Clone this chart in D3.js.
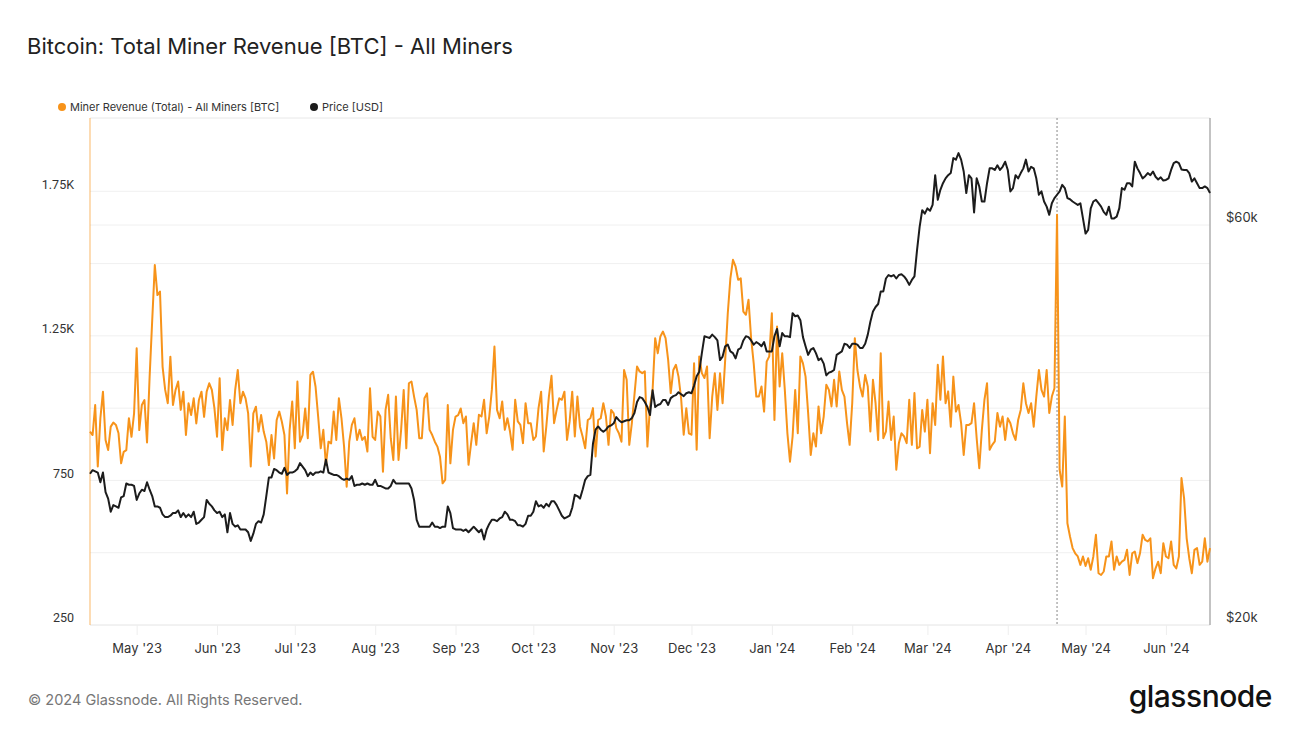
<!DOCTYPE html>
<html><head><meta charset="utf-8">
<script src="https://cdn.jsdelivr.net/npm/d3@7"></script>
<style>
body{margin:0;background:#fff;}
svg{display:block;font-family:Inter,Roboto,"Open Sans",sans-serif;}
</style>
</head><body>
<svg id="chart" width="1300" height="732"></svg>
<script>
// ---------- DATA ----------
const startDate = "2023-04-13";   // first daily point
const titleText = "Bitcoin: Total Miner Revenue [BTC] - All Miners";
const seriesNames = ["Miner Revenue (Total) - All Miners [BTC]", "Price [USD]"];

// Daily total miner revenue in BTC
const revenueBTC = [
919,907,1011,798,965,1057,890,855,936,950,942,913,809,849,855,965,901,982,1207,924,
1011,1028,881,1109,1305,1495,1391,1403,1143,1063,1017,1178,1011,1063,1092,994,1057,907,1017,976,
1034,947,1028,1057,970,1057,1086,1063,999,901,1103,855,965,924,1028,942,1063,1132,1017,1057,
1034,982,798,982,1005,919,976,919,884,803,907,826,959,
988,953,907,705,925,1023,861,1092,884,907,999,896,1115,1126,1074,971,861,925,803,884,
878,988,890,1034,965,867,728,884,942,965,890,925,890,901,850,1069,901,890,988,971,
780,994,1046,896,821,1040,821,925,1063,861,1086,1092,1040,994,896,896,1034,1051,925,907,
884,867,832,740,752,1011,809,925,971,976,999,948,
971,804,879,948,873,977,971,1029,913,971,1063,1213,994,965,1023,925,965,919,856,1029,
954,942,879,1017,948,948,890,902,1000,1057,850,936,1040,1112,948,994,1034,1029,1057,890,
954,1057,902,1040,936,902,861,959,965,1000,833,959,965,1017,971,873,994,982,931,913,
884,1132,1098,873,948,1046,1144,1127,1121,1127,867,1006,1063,1242,
1190,1248,1265,1242,1167,1052,1132,1150,1109,1034,908,1000,913,908,1155,856,1179,1121,1104,1144,
896,1040,1121,994,1121,1017,1167,1328,1449,1513,1490,1444,1449,1334,1323,1375,1242,1155,1040,1040,
1075,988,1161,1179,1328,959,1282,1075,1190,1063,913,815,902,1063,913,1179,1155,1109,983,838,
913,867,1006,913,971,1081,1063,1006,1098,1006,1127,1063,1040,
948,873,1017,1242,1132,1075,1040,1115,1075,919,1098,1017,890,1190,896,919,1023,890,971,
787,879,913,902,879,1029,873,1052,861,867,994,919,1029,844,1017,942,1150,1029,1179,1017,
1058,936,1109,988,1011,948,838,942,942,948,1017,896,792,925,1029,1086,856,873,885,983,
936,971,890,965,948,913,890,959,994,1086,1017,983,1017,936,1040,1132,1063,1040,
1132,983,1040,1069,1669,787,729,971,602,556,516,498,487,458,487,454,481,441,487,
562,429,423,435,487,487,539,441,487,458,469,475,510,423,498,504,464,498,562,544,
539,550,412,446,469,429,533,487,481,539,458,446,487,758,689,550,481,429,510,516,
458,469,550,469,516
];

// Daily BTC price in thousands of USD
const priceK = [
30.3,30.6,30.5,30.4,29.6,30.4,28.8,28.3,27.3,27.8,27.7,27.6,28.4,28.5,29.5,29.4,29.4,29.3,28.2,28.7,
29.0,28.9,29.6,29.0,28.5,27.7,27.7,27.6,27.1,26.9,26.9,27.0,27.2,27.2,27.4,26.9,27.2,26.9,27.1,26.9,
27.3,26.4,26.5,26.7,26.9,28.2,27.9,27.7,27.4,27.2,27.3,26.9,27.1,25.8,27.2,26.4,26.2,26.3,26.0,26.0,
26.0,25.8,25.2,25.7,26.4,26.6,26.5,27.1,28.5,30.0,30.0,30.7,30.6,
30.4,30.3,30.8,30.2,30.4,30.4,30.5,30.7,31.2,30.9,30.6,30.1,30.4,30.2,30.4,30.4,30.5,30.4,31.5,30.4,
30.3,30.2,30.2,30.1,29.9,29.8,29.9,29.8,30.1,29.3,29.4,29.4,29.5,29.4,29.5,29.4,29.4,29.8,29.3,29.3,
29.2,29.1,29.1,29.3,29.8,29.5,29.5,29.5,29.5,29.5,29.5,29.1,28.2,26.7,26.2,26.2,26.2,26.2,26.2,26.5,
26.2,26.2,26.1,26.2,26.2,27.7,27.2,26.1,26.0,26.0,26.0,25.9,
26.0,25.8,26.0,26.2,26.0,25.8,26.0,25.3,26.0,26.4,26.7,26.7,26.6,26.8,26.9,27.3,27.1,26.7,26.7,26.6,
26.3,26.3,26.2,26.4,27.0,27.0,27.3,28.1,27.7,27.8,27.6,27.9,27.7,28.1,28.1,27.8,27.4,27.0,26.8,26.9,
27.0,27.6,28.6,28.5,28.3,29.0,29.8,30.1,30.2,32.9,34.2,34.5,34.2,34.0,34.2,34.5,34.6,34.8,35.4,35.1,
34.9,35.0,35.1,35.1,35.3,35.8,36.9,37.4,37.3,36.9,36.4,35.6,38.1,36.4,
36.6,36.7,37.1,37.1,36.6,37.3,37.5,37.6,37.9,37.7,37.5,37.8,37.9,37.8,38.6,39.6,40.1,42.2,44.2,44.1,
44.0,44.4,44.1,43.7,41.4,41.8,43.0,43.2,42.4,42.2,41.6,42.6,42.8,43.7,44.2,44.1,43.7,43.2,43.5,43.3,
43.0,43.5,42.4,42.4,42.4,44.2,45.1,43.0,44.6,44.2,44.2,44.1,47.1,46.7,46.8,46.2,44.1,43.0,42.0,42.6,
42.8,42.2,41.4,41.6,41.0,39.7,40.0,40.1,40.3,42.0,42.2,42.4,43.3,
43.2,42.8,43.3,43.3,43.2,42.8,42.8,43.3,44.4,46.0,47.3,47.9,48.3,50.0,50.0,51.8,52.3,52.1,52.3,
51.8,52.3,52.4,52.1,51.6,50.9,51.6,52.1,56.0,59.7,62.5,61.9,62.8,62.4,63.4,68.8,64.3,66.1,67.3,68.2,
68.8,69.2,72.1,71.8,73.1,71.8,69.5,65.5,68.8,68.2,62.1,68.2,66.7,64.0,64.0,67.3,70.1,70.1,69.8,70.7,
69.8,70.4,71.4,69.8,65.8,66.4,68.8,68.2,69.2,70.1,71.8,69.5,70.4,70.1,68.2,65.2,65.8,64.0,
63.1,61.7,63.7,64.6,65.2,65.8,67.0,66.4,64.6,64.4,64.0,63.7,63.4,63.7,61.1,58.6,59.2,62.8,64.0,
64.3,63.7,63.1,62.2,61.7,63.1,61.1,61.1,61.4,62.8,66.4,66.1,67.3,67.3,66.7,71.4,70.1,69.2,68.2,68.6,
69.2,68.8,69.5,68.5,68.0,68.4,67.8,67.9,68.2,69.8,71.1,71.4,71.1,69.9,69.8,69.8,69.2,67.6,68.2,67.3,
66.4,66.4,66.7,66.4,65.5
];

const leftTickValues = [250, 750, 1250, 1750];
const leftGridValues = [500, 750, 1000, 1250, 1500, 1750];
const rightTickValues = [20, 60];          // $k
const rightGridValues = [40, 60];          // $k
const monthTicks = ["2023-05-01","2023-06-01","2023-07-01","2023-08-01","2023-09-01","2023-10-01",
  "2023-11-01","2023-12-01","2024-01-01","2024-02-01","2024-03-01","2024-04-01","2024-05-01","2024-06-01"];
const halvingDate = "2024-04-20";
const footerText = "© 2024 Glassnode. All Rights Reserved.";
const brandText = "glassnode";

// ---------- CHART ----------
const ORANGE = "#f7931a", BLACK = "#1c1c1c";
const M = {left: 90, right: 1210, top: 119, bottom: 625};
const svg = d3.select("#chart");

const parse = d3.utcParse("%Y-%m-%d");
const t0 = parse(startDate);
const n = Math.min(revenueBTC.length, priceK.length);
const dates = d3.range(n).map(i => d3.utcDay.offset(t0, i));

const x = d3.scaleUtc().domain([dates[0], dates[n - 1]]).range([M.left, M.right]);
const yL = d3.scaleLinear().domain([250, 2000]).range([M.bottom, M.top]);
const yR = d3.scaleLog().domain([20, 80.5]).range([M.bottom, M.top - 1]);

// title
svg.append("text").attr("x", 27).attr("y", 54).attr("font-size", 22).attr("fill", "#222")
  .text(titleText);

// legend
const lg = svg.append("g");
[[62, ORANGE, seriesNames[0]], [314, BLACK, seriesNames[1]]].forEach(([lx, c, t]) => {
  lg.append("circle").attr("cx", lx).attr("cy", 107).attr("r", 4).attr("fill", c);
  lg.append("text").attr("x", lx + 8).attr("y", 111).attr("font-size", 11).attr("fill", "#333").text(t);
});

// frame
svg.append("line").attr("x1", M.left).attr("x2", M.right).attr("y1", M.top - 1).attr("y2", M.top - 1)
  .attr("stroke", "#e8e8e8");
svg.append("line").attr("x1", M.left).attr("x2", M.right).attr("y1", M.bottom).attr("y2", M.bottom)
  .attr("stroke", "#e4e4e4");

// gridlines (left axis)
svg.append("g").selectAll("line").data(leftGridValues).join("line")
  .attr("x1", M.left).attr("x2", M.right)
  .attr("y1", d => yL(d)).attr("y2", d => yL(d))
  .attr("stroke", "#f0f0f0");
// gridlines (right axis)
svg.append("g").selectAll("line").data(rightGridValues).join("line")
  .attr("x1", M.left).attr("x2", M.right)
  .attr("y1", d => yR(d)).attr("y2", d => yR(d))
  .attr("stroke", "#f0f0f0");

// left axis labels
const axL = d3.axisLeft(yL).tickValues(leftTickValues).tickSize(0)
  .tickFormat(d => d >= 1000 ? d3.format(".3~s")(d).replace("k", "K") : d);
const gL = svg.append("g").attr("transform", `translate(${M.left - 16},0)`).call(axL);
gL.select(".domain").remove();
gL.selectAll("text").attr("font-size", 12.5).attr("fill", "#333").attr("font-family", "Roboto")
  .attr("dy", "-0.25em").attr("x", 0);

// right axis labels
const axR = d3.axisRight(yR).tickValues(rightTickValues).tickSize(0).tickFormat(d => "$" + d + "k");
const gR = svg.append("g").attr("transform", `translate(${M.right + 16},0)`).call(axR);
gR.select(".domain").remove();
gR.selectAll("text").attr("font-size", 13).attr("fill", "#333").attr("font-family", "Inter")
  .attr("dy", "-0.25em").attr("x", 0);

// x axis
const axX = d3.axisBottom(x).tickValues(monthTicks.map(parse)).tickSize(10).tickFormat(d3.utcFormat("%b '%y"));
const gX = svg.append("g").attr("transform", `translate(0,${M.bottom})`).call(axX);
gX.select(".domain").remove();
gX.selectAll("line").attr("stroke", "#eeeeee");
gX.selectAll("text").attr("font-size", 13).attr("fill", "#333").attr("font-family", "Inter").attr("dy", "1.15em");

// axis lines
svg.append("line").attr("x1", M.left).attr("x2", M.left).attr("y1", M.top - 1).attr("y2", M.bottom)
  .attr("stroke", ORANGE).attr("stroke-opacity", 0.55).attr("stroke-width", 1.2);
svg.append("line").attr("x1", M.right).attr("x2", M.right).attr("y1", M.top - 1).attr("y2", M.bottom)
  .attr("stroke", "#aaaaaa").attr("stroke-width", 1.4);

// halving marker
const hx = x(parse(halvingDate));
svg.append("line").attr("x1", hx).attr("x2", hx).attr("y1", M.top - 1).attr("y2", M.bottom)
  .attr("stroke", "#888").attr("stroke-width", 1).attr("stroke-dasharray", "2,2");

// series
const lineRev = d3.line().x((d, i) => x(dates[i])).y(d => yL(d));
const linePx = d3.line().x((d, i) => x(dates[i])).y(d => yR(d));
svg.append("path").datum(revenueBTC.slice(0, n)).attr("d", lineRev)
  .attr("fill", "none").attr("stroke", ORANGE).attr("stroke-width", 2).attr("stroke-linejoin", "round");
svg.append("path").datum(priceK.slice(0, n)).attr("d", linePx)
  .attr("fill", "none").attr("stroke", BLACK).attr("stroke-width", 2).attr("stroke-linejoin", "round");

// footer
svg.append("text").attr("x", 28).attr("y", 705).attr("font-size", 14.5).attr("fill", "#777").text(footerText);
svg.append("text").attr("x", 1272).attr("y", 707).attr("text-anchor", "end").attr("font-size", 30)
  .attr("font-weight", 500).attr("fill", "#111").attr("letter-spacing", -0.5).text(brandText);
</script>
</body></html>
